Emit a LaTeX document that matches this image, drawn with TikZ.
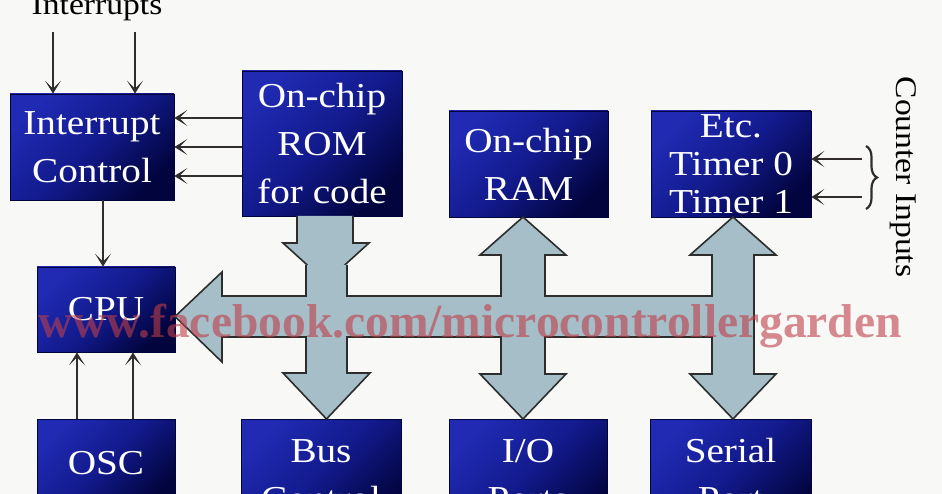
\documentclass[tikz,border=0pt]{standalone}
\usepackage{fontspec}
\setmainfont{Liberation Serif}
\newfontfamily\boxfont[FakeStretch=1.12]{Liberation Serif}
\usetikzlibrary{arrows.meta,decorations.pathreplacing}
\definecolor{boxlight}{RGB}{32,42,178}
\definecolor{boxmid}{RGB}{18,26,140}
\definecolor{boxdark}{RGB}{2,4,62}
\definecolor{busfill}{RGB}{166,190,200}
\definecolor{busline}{RGB}{45,45,45}
\definecolor{wire}{RGB}{50,45,45}
\definecolor{wm}{RGB}{190,62,72}
\definecolor{bg}{RGB}{248,248,246}
\begin{document}
\begin{tikzpicture}[x=1pt,y=-1pt,
  blk/.style={rectangle, inner sep=0pt, draw=boxdark, line width=0.8pt,
    top color=boxlight, bottom color=boxdark, middle color=boxmid, shading angle=45,
    text=white, align=center, font=\boxfont\fontsize{35}{48}\selectfont},
  arr/.style={draw=wire, line width=1.8pt, -{Stealth[length=13pt,width=16pt,inset=8pt]}},
  bus/.style={fill=busfill, draw=busline, line width=1.6pt, line join=miter},
  lbl/.style={font=\boxfont\fontsize{30}{36}\selectfont, text=black}]
\useasboundingbox (0,0) rectangle (942,494);
\clip (0,0) rectangle (942,494);
\fill[bg] (0,0) rectangle (942,494);

% blocks
\node[blk, minimum width=164pt, minimum height=106pt] (ic) at (92,147) {Interrupt\\Control};
\node[blk, minimum width=160pt, minimum height=145pt] (rom) at (322,143.5) {On-chip\\ROM\\for code};
\node[blk, minimum width=159pt, minimum height=106pt] (ram) at (528.5,164) {On-chip\\RAM};
\node[blk, minimum width=160pt, minimum height=106pt, font=\boxfont\fontsize{35}{38}\selectfont] (tmr) at (731,164) {Etc.\\Timer 0\\Timer 1};
\node[blk, minimum width=138pt, minimum height=85pt] (cpu) at (106,309.5) {CPU};
\node[blk, minimum width=138pt, minimum height=88pt] (osc) at (106,463) {OSC};
\node[blk, minimum width=160pt, minimum height=112pt] (bc) at (321,475) {Bus\\Control};
\node[blk, minimum width=158pt, minimum height=112pt] (io) at (528,475) {I/O\\Ports};
\node[blk, minimum width=161pt, minimum height=112pt] (ser) at (730.5,475) {Serial\\Port};

% labels
\node[lbl, anchor=base] (intl) at (97,15) {Interrupts};
\node[lbl, rotate=-90] (ci) at (903,177) {Counter Inputs};

% ROM down arrow
\filldraw[bus] (297,216) -- (297,243) -- (283,243) -- (326,282) -- (369,243) -- (353,243) -- (353,216);

% bus
\filldraw[bus] (347,265) -- (347,296) -- (501,296) -- (501,255) -- (480,255) -- (523,217)
  -- (566,255) -- (545,255) -- (545,296) -- (712,296) -- (712,255) -- (690,255) -- (733,217)
  -- (776,255) -- (754,255) -- (754,374) -- (776,374) -- (733,419) -- (690,374) -- (712,374)
  -- (712,337) -- (545,337) -- (545,374) -- (566,374) -- (523,419) -- (480,374) -- (501,374)
  -- (501,337) -- (347,337) -- (347,373) -- (370,373) -- (326.5,419) -- (283,373) -- (306,373)
  -- (306,337) -- (222,337) -- (222,362) -- (175,316.5) -- (222,272) -- (222,296) -- (306,296)
  -- (306,265);

% wires
\coordinate (ia) at (53,32);
\coordinate (ib) at (135,32);
\draw[arr] (ia) -- (ia |- ic.north);
\draw[arr] (ib) -- (ib |- ic.north);
\coordinate (r1) at (0,118);
\coordinate (r2) at (0,147);
\coordinate (r3) at (0,176);
\draw[arr] (rom.west |- r1) -- (ic.east |- r1);
\draw[arr] (rom.west |- r2) -- (ic.east |- r2);
\draw[arr] (rom.west |- r3) -- (ic.east |- r3);
\coordinate (c1) at (103,0);
\draw[arr] (ic.south -| c1) -- (cpu.north -| c1);
\coordinate (o1) at (77,0);
\coordinate (o2) at (133,0);
\draw[arr] (osc.north -| o1) -- (cpu.south -| o1);
\draw[arr] (osc.north -| o2) -- (cpu.south -| o2);
\coordinate (t1) at (862,159);
\coordinate (t2) at (862,197);
\draw[arr] (t1) -- (tmr.east |- t1);
\draw[arr] (t2) -- (tmr.east |- t2);
\draw[wire, line width=2.2pt, decorate, decoration={brace, amplitude=11pt}] (866,146) -- (866,209);

% watermark
\node[anchor=base west, inner sep=0pt, text=wm, text opacity=0.6,
  font=\fontsize{47.5}{50}\selectfont\bfseries] (wmk) at (38,337) {www.facebook.com/microcontrollergarden};
\end{tikzpicture}
\end{document}
